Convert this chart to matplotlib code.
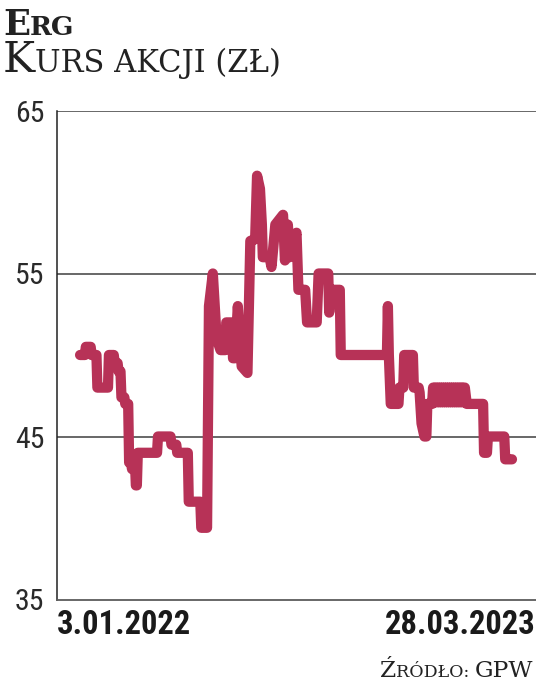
import matplotlib
matplotlib.use("Agg")
import matplotlib.pyplot as plt
from matplotlib import font_manager

# day offsets from 3.01.2022 and closing price (zł)
days = [0, 5, 6, 11, 12, 17, 18, 29, 30, 35,
        36, 39, 40, 42, 43, 46, 47, 50, 51, 53,
        54, 55, 57, 58, 59, 60, 80, 81, 94, 95,
        100, 101, 112, 113, 125, 126, 132, 134, 138, 140,
        142, 146, 151, 152, 158, 159, 161, 164, 168, 174,
        177, 182, 184, 187, 189, 190, 197, 199, 203, 211,
        213, 216, 218, 225, 227, 234, 236, 246, 248, 258,
        259, 261, 270, 271, 319, 320, 321, 323, 331, 332,
        336, 337, 346, 347, 352, 353, 355, 358, 360, 361,
        366, 367, 368, 369, 370, 371, 372, 373, 374, 375,
        376, 377, 378, 379, 380, 381, 382, 383, 384, 385,
        386, 387, 388, 389, 390, 391, 392, 393, 394, 395,
        396, 397, 398, 399, 400, 402, 419, 420, 423, 424,
        441, 442, 449]
price = [50, 50, 50.5, 50.5, 50, 50, 48, 48, 50, 50,
         49.5, 49.5, 49, 49, 47.4, 47.4, 47, 47, 43.4, 43.4,
         43, 43.5, 43.5, 42, 42, 44, 44, 45, 45, 44.5,
         44.5, 44, 44, 41, 41, 39.4, 39.4, 53, 55, 53,
         51, 50.3, 50.3, 52, 52, 49.8, 49.8, 53, 49.3, 48.9,
         57, 57.1, 61, 60.2, 58, 56, 56, 55.4, 58, 58.6,
         55.8, 58, 56, 57.5, 54, 54, 52, 52, 55, 55,
         52.6, 54, 54, 50, 50, 53, 50, 47, 47, 48,
         48, 50, 50, 48, 48, 47.7, 45.8, 45, 45, 47,
         47, 48, 47.1, 48, 47.1, 48, 47.1, 48, 47.1, 48,
         47.1, 48, 47.1, 48, 47.1, 48, 47.1, 48, 47.1, 48,
         47.1, 48, 47.1, 48, 47.1, 48, 47.1, 48, 47.1, 48,
         47.1, 48, 47.1, 48, 48, 47, 47, 44, 44, 45,
         45, 43.6, 43.6]

y_ticks = [35, 45, 55, 65]
date_labels = ["3.01.2022", "28.03.2023"]

LINE = "#b73257"
GRID = "#5c5c5c"
SERIF = "DejaVu Serif"

names = {f.name for f in font_manager.fontManager.ttflist}
TICKFONT, TS = "DejaVu Sans", 0.8
for cand in ["Roboto Condensed", "Liberation Sans Narrow", "Open Sans Condensed"]:
    if cand in names:
        TICKFONT, TS = cand, 1.0
        break

fig = plt.figure(figsize=(5.36, 6.85), dpi=100)
ax = fig.add_axes([57 / 536, (685 - 599.5) / 685, 1 - 57 / 536, (599.5 - 110.5) / 685])

ax.plot(days, price, color=LINE, lw=7.4, solid_capstyle="round",
        solid_joinstyle="round", zorder=3)

ax.set_xlim(-24, 474)
ax.set_ylim(35, 65)
for v in y_ticks[1:]:
    ax.axhline(v, color=GRID, lw=1.3, zorder=1)

for s in ["top", "right"]:
    ax.spines[s].set_visible(False)
ax.spines["left"].set_color("#222222")
ax.spines["left"].set_linewidth(1.1)
ax.spines["bottom"].set_color(GRID)
ax.spines["bottom"].set_linewidth(1.3)

ax.set_yticks(y_ticks)
ax.set_yticklabels([str(v) for v in y_ticks], fontfamily=TICKFONT,
                   fontsize=21.5 * TS, fontstretch="condensed", color="#2a2a2a")
ax.tick_params(axis="y", length=0, pad=9)

ax.set_xticks([-24, 474])
xl = ax.set_xticklabels(date_labels, fontfamily=TICKFONT, fontsize=23.5 * TS,
                        fontstretch="condensed", fontweight="semibold",
                        color="#1a1a1a")
xl[0].set_ha("left")
xl[1].set_ha("right")
ax.tick_params(axis="x", length=0, pad=7)

renderer = fig.canvas.get_renderer()


def small_caps(x_px, base_px, parts, weight="normal", align="left"):
    # parts: list of (text, size) drawn one after another on one baseline
    items = []
    x = x_px
    for txt, size in parts:
        t = fig.text(x / 536, 1 - base_px / 685, txt, fontfamily=SERIF,
                     fontsize=size, fontweight=weight, color="#222222",
                     va="baseline", ha="left")
        w = t.get_window_extent(renderer).width
        items.append((t, x))
        x += w
    if align == "right":
        shift = x - x_px
        for t, x0 in items:
            t.set_x((x0 - shift) / 536)


small_caps(3, 35, [("E", 25.5), ("RG", 19)], weight="bold")
small_caps(3, 72, [("K", 31), ("URS AKCJI (ZŁ)", 22)])
small_caps(533, 677, [("Ź", 16.8), ("RÓDŁO: ", 12.5), ("GPW", 16.8)], align="right")

fig.savefig("out.png", dpi=100)
